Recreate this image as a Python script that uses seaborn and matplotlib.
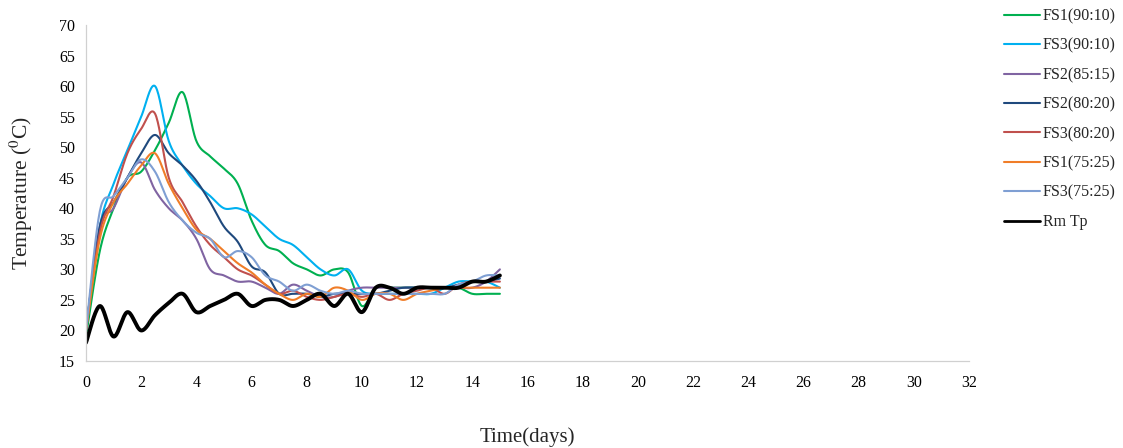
import numpy as np
import pandas as pd
import matplotlib
matplotlib.use("Agg")
import matplotlib.pyplot as plt
import seaborn as sns

# ---------------- data ----------------
days = [0, 0.5, 1, 1.5, 2, 2.5, 3, 3.5, 4, 4.5, 5, 5.5, 6, 6.5, 7, 7.5,
        8, 8.5, 9, 9.5, 10, 10.5, 11, 11.5, 12, 12.5, 13, 13.5, 14, 14.5, 15]

fs1_90_10 = [19, 33, 40, 45, 46, 49.5, 54, 59, 51, 48.5, 46.5, 44, 38, 34, 33, 31,
             30, 29, 30, 29.5, 24, 27, 27, 27, 27, 27, 27, 27, 26, 26, 26]
fs3_90_10 = [20, 37, 44, 49.5, 55, 60, 51, 47, 44, 42, 40, 40, 39, 37, 35, 34,
             32, 30, 29, 30, 26.5, 26, 26, 26, 26, 26, 27, 28, 28, 28, 27]
fs2_85_15 = [20, 37, 40, 45, 47.5, 43, 40, 38, 35, 30, 29, 28, 28, 27, 26, 27.5,
             26.5, 25.5, 25.5, 26.5, 27, 27, 27, 27, 27, 27, 27, 27, 27, 28, 30]
fs2_80_20 = [20, 37, 41, 45, 49, 52, 49, 47, 44.5, 41, 37, 34.5, 30.5, 29.5, 26, 26,
             26, 25.5, 26, 26, 26, 26, 26.5, 27, 27, 27, 27, 27.5, 28, 28, 28.5]
fs3_80_20 = [20, 36, 42, 49, 53, 55.5, 45, 41, 37, 34, 32, 30, 29, 27.5, 26, 26.5,
             25.5, 25, 25.5, 26, 25.5, 26, 25, 26, 26.5, 27, 26, 27.5, 28, 28, 28]
fs1_75_25 = [20, 35, 41, 44, 47, 49, 44, 40, 36.5, 35, 33, 31, 29.5, 27.5, 26, 25,
             26, 25.5, 27, 26.5, 25, 26, 26, 25, 26, 26.5, 27, 27, 27, 27, 27]
fs3_75_25 = [20, 39.5, 42, 45, 48, 46, 41, 38, 36, 35, 32, 33, 32, 29, 28, 26.5,
             27.5, 26.5, 26, 26.5, 26, 26, 26, 26, 26, 26, 26, 27.5, 28, 29, 29]
rm_tp = [18, 24, 19, 23, 20, 22.5, 24.5, 26, 23, 24, 25, 26, 24, 25, 25, 24,
         25, 26, 24, 26, 23, 27, 27, 26, 27, 27, 27, 27, 28, 28, 29]

labels = ["FS1(90:10)", "FS3(90:10)", "FS2(85:15)", "FS2(80:20)",
          "FS3(80:20)", "FS1(75:25)", "FS3(75:25)", "Rm Tp"]
series = [fs1_90_10, fs3_90_10, fs2_85_15, fs2_80_20,
          fs3_80_20, fs1_75_25, fs3_75_25, rm_tp]
colors = ["#00B050", "#00B0F0", "#8064A2", "#1F497D",
          "#C0504D", "#F07D28", "#7F9FD3", "#000000"]
widths = [1.5, 1.5, 1.5, 1.5, 1.5, 1.5, 1.5, 2.8]


def smooth(x, y, n=20):
    """Excel-like smoothed line (Catmull-Rom through the data points)."""
    x = np.asarray(x, float)
    y = np.asarray(y, float)
    px = np.concatenate([[x[0]], x, [x[-1]]])
    py = np.concatenate([[y[0]], y, [y[-1]]])
    xs, ys = [], []
    t = np.linspace(0, 1, n, endpoint=False)
    for i in range(1, len(px) - 2):
        p0x, p1x, p2x, p3x = px[i - 1:i + 3]
        p0y, p1y, p2y, p3y = py[i - 1:i + 3]
        m1x, m2x = (p2x - p0x) / 2, (p3x - p1x) / 2
        m1y, m2y = (p2y - p0y) / 2, (p3y - p1y) / 2
        h00 = 2 * t**3 - 3 * t**2 + 1
        h10 = t**3 - 2 * t**2 + t
        h01 = -2 * t**3 + 3 * t**2
        h11 = t**3 - t**2
        xs.append(h00 * p1x + h10 * m1x + h01 * p2x + h11 * m2x)
        ys.append(h00 * p1y + h10 * m1y + h01 * p2y + h11 * m2y)
    xs.append([x[-1]])
    ys.append([y[-1]])
    return np.concatenate(xs), np.concatenate(ys)


# ---------------- style ----------------
sns.set_theme(style="white")
plt.rcParams["font.family"] = ["Liberation Serif", "DejaVu Serif"]
plt.rcParams["mathtext.fontset"] = "stix"

fig = plt.figure(figsize=(11.23, 4.48), dpi=100)
ax = fig.add_axes([86 / 1123, 1 - 361 / 448, (969 - 86) / 1123, (361 - 25) / 448])

for lab, vals, col, lw in zip(labels, series, colors, widths):
    sx, sy = smooth(days, vals)
    df = pd.DataFrame({"Time": sx, "Temp": sy})
    sns.lineplot(data=df, x="Time", y="Temp", ax=ax, color=col, linewidth=lw,
                 label=lab, sort=False, estimator=None)

ax.set_xlim(0, 32)
ax.set_ylim(15, 70)
ax.set_xticks(np.arange(0, 33, 2))
ax.set_yticks(np.arange(15, 71, 5))
ax.tick_params(axis="both", labelsize=11.5, length=4, width=0.8, direction="out")
ax.tick_params(axis="x", colors="#d0d0d0", labelcolor="black", pad=6)
ax.tick_params(axis="y", colors="#d0d0d0", labelcolor="black", pad=4)
for s in ["top", "right"]:
    ax.spines[s].set_visible(False)
for s in ["left", "bottom"]:
    ax.spines[s].set_color("#d0d0d0")
    ax.spines[s].set_linewidth(0.9)

ax.set_xlabel("Time(days)", fontsize=15, labelpad=26)
ax.set_ylabel("Temperature ($^{0}$C)", fontsize=15.5, labelpad=17)

ax.get_legend().remove()
handles, labs = ax.get_legend_handles_labels()
leg = fig.legend(handles, labs, loc="upper left",
                 bbox_to_anchor=(998 / 1123, 1 - 2 / 448),
                 frameon=False, fontsize=11.5, handlelength=2.2,
                 handletextpad=0.2, labelspacing=0.84, borderaxespad=0)
for h in leg.legend_handles:
    h.set_linewidth(1.5)
leg.legend_handles[-1].set_linewidth(2.0)

fig.savefig("out.png", dpi=100)
